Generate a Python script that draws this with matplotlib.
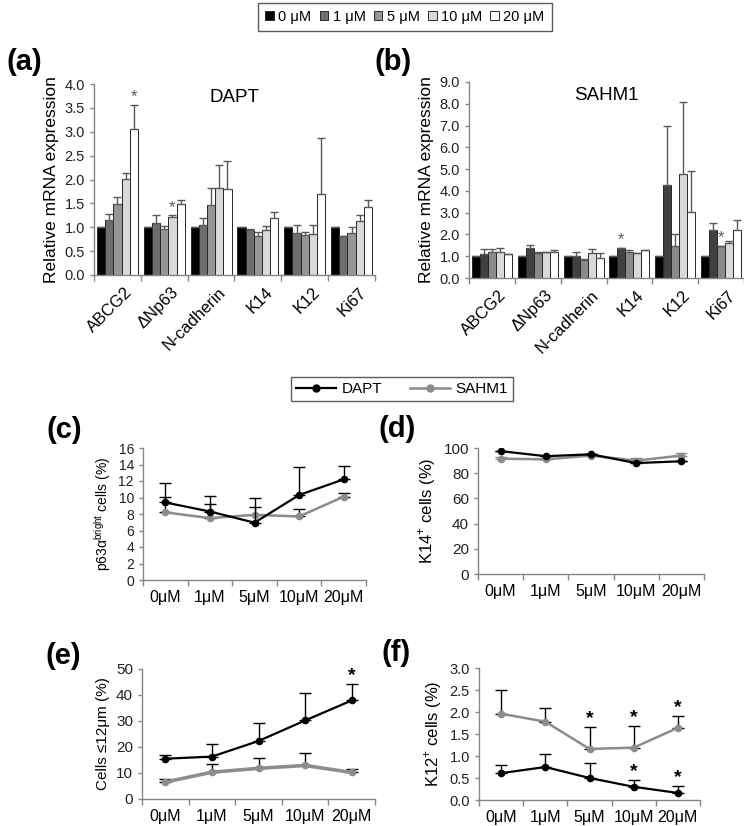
import numpy as np
import matplotlib
matplotlib.use("Agg")
import matplotlib.pyplot as plt
from matplotlib.patches import Patch
from matplotlib.lines import Line2D

plt.rcParams['font.family'] = ['Liberation Sans', 'DejaVu Sans']

W, H = 744, 826

# ---- bar data (a) DAPT, (b) SAHM1 ----
genes = ["ABCG2", "ΔNp63", "N-cadherin", "K14", "K12", "Ki67"]
dose_names = ["0 μM", "1 μM", "5 μM", "10 μM", "20 μM"]

dapt_0 = [1.0, 1.0, 1.0, 1.0, 1.0, 1.0]
dapt_1 = [1.15, 1.09, 1.05, 0.95, 0.87, 0.82]
dapt_5 = [1.49, 0.97, 1.47, 0.81, 0.84, 0.88]
dapt_10 = [2.02, 1.22, 1.82, 0.94, 0.85, 1.13]
dapt_20 = [3.05, 1.49, 1.81, 1.19, 1.70, 1.43]
dapt_err_0 = [0, 0, 0, 0.01, 0, 0]
dapt_err_1 = [0.13, 0.17, 0.14, 0.02, 0.17, 0.0]
dapt_err_5 = [0.14, 0.05, 0.35, 0.09, 0.07, 0.12]
dapt_err_10 = [0.11, 0.03, 0.49, 0.09, 0.20, 0.13]
dapt_err_20 = [0.52, 0.09, 0.58, 0.12, 1.16, 0.15]
dapt_stars = [(0, 4), (1, 3)]

sahm_0 = [1.0, 1.0, 1.0, 1.0, 1.0, 1.0]
sahm_1 = [1.10, 1.36, 1.00, 1.40, 4.25, 2.22]
sahm_5 = [1.18, 1.17, 0.82, 1.20, 1.45, 1.47]
sahm_10 = [1.20, 1.18, 1.13, 1.15, 4.77, 1.60]
sahm_20 = [1.08, 1.20, 0.94, 1.27, 3.03, 2.22]
sahm_err_0 = [0, 0, 0, 0, 0, 0]
sahm_err_1 = [0.22, 0.14, 0.18, 0.0, 2.73, 0.30]
sahm_err_5 = [0.14, 0.01, 0.06, 0.10, 0.57, 0.0]
sahm_err_10 = [0.20, 0.0, 0.18, 0.0, 3.33, 0.10]
sahm_err_20 = [0.02, 0.10, 0.21, 0.0, 1.87, 0.43]
sahm_stars = [(3, 1), (5, 2)]

# ---- line data (c)-(f) ----
conc = ["0μM", "1μM", "5μM", "10μM", "20μM"]

c_dapt = [9.4, 8.3, 6.95, 10.3, 12.2]
c_dapt_err = [2.4, 1.9, 2.95, 3.4, 1.6]
c_sahm = [8.2, 7.5, 7.9, 7.7, 10.1]
c_sahm_err = [1.9, 1.7, 1.0, 0.9, 0.4]

d_dapt = [97.5, 93.5, 95.0, 88.0, 89.5]
d_dapt_err = [0.5, 0.5, 0.5, 0.5, 0.5]
d_sahm = [91.5, 91.0, 94.0, 90.0, 94.0]
d_sahm_err = [1.5, 0.5, 1.5, 2.0, 2.0]

e_dapt = [15.5, 16.3, 22.3, 30.2, 37.9]
e_dapt_err = [1.3, 4.9, 6.8, 10.6, 6.3]
e_sahm = [6.5, 10.3, 11.8, 12.9, 10.2]
e_sahm_err = [1.2, 3.3, 3.8, 4.8, 1.3]
e_dapt_stars = [4]
e_sahm_stars = []

f_dapt = [0.61, 0.75, 0.50, 0.30, 0.16]
f_dapt_err = [0.19, 0.29, 0.34, 0.15, 0.15]
f_sahm = [1.96, 1.78, 1.16, 1.19, 1.64]
f_sahm_err = [0.55, 0.31, 0.49, 0.50, 0.27]
f_dapt_stars = [3, 4]
f_sahm_stars = [2, 3, 4]

AXC = '#868686'


def rect(l, t, r, b):
    return [l / W, 1 - b / H, (r - l) / W, (b - t) / H]


def style_axes(ax):
    for s in ['top', 'right']:
        ax.spines[s].set_visible(False)
    for s in ['left', 'bottom']:
        ax.spines[s].set_color(AXC)
        ax.spines[s].set_linewidth(1.0)
    ax.tick_params(axis='y', colors=AXC, labelcolor='#222222', length=3, width=1)


def bar_panel(ax, series, errs, colors, stars, ymax, ystep, title):
    x = np.arange(len(genes))
    w = 0.175
    for i, (vals, e) in enumerate(zip(series, errs)):
        pos = x + (i - 2) * w
        ax.bar(pos, vals, w, color=colors[i], edgecolor='#262626', linewidth=0.7, zorder=2)
        ax.errorbar(pos, vals, yerr=[np.zeros(len(e)), e], fmt='none',
                    ecolor='#595959', elinewidth=1.0, capsize=3, capthick=1.0, zorder=3)
    for g, d in stars:
        top = series[d][g] + errs[d][g]
        ax.text(x[g] + (d - 2) * w, top + ymax * 0.003, '*', ha='center', va='bottom',
                fontsize=12, color='#595959')
    ax.set_xlim(-0.5, len(genes) - 0.5)
    ax.set_ylim(0, ymax)
    ax.set_yticks(np.arange(0, ymax + 1e-6, ystep))
    ax.set_yticklabels(['%.1f' % v for v in np.arange(0, ymax + 1e-6, ystep)], fontsize=10.5)
    ax.set_xticks(x + 0.15)
    ax.set_xticklabels(genes, rotation=45, ha='right', rotation_mode='anchor', fontsize=12)
    ax.set_xticks(np.arange(-0.5, len(genes)), minor=True)
    ax.tick_params(axis='x', which='major', length=0, pad=7)
    ax.tick_params(axis='x', which='minor', length=4, width=1, color=AXC)
    style_axes(ax)
    ax.set_ylabel('Relative mRNA expression', fontsize=12.5, labelpad=4)
    ax.text(0.5, 0.93, title, transform=ax.transAxes, ha='center', va='center', fontsize=13.5)


def line_panel(ax, dapt, dapt_err, sahm, sahm_err, ymax, ystep, fmt, ylabel, ylfs, ytfs,
               dapt_stars=(), sahm_stars=(), ecol_s='black', lw_s=1.8):
    x = np.arange(len(conc))
    ax.errorbar(x, sahm, yerr=[np.zeros(len(x)), sahm_err], color='#8c8c8c', lw=lw_s,
                marker='o', ms=4.5, ecolor=ecol_s, elinewidth=1.0, capsize=4, capthick=1.0, zorder=2)
    ax.errorbar(x, dapt, yerr=[np.zeros(len(x)), dapt_err], color='black', lw=1.6,
                marker='o', ms=4.5, ecolor='black', elinewidth=1.0, capsize=4, capthick=1.0, zorder=3)
    for i in dapt_stars:
        ax.text(x[i], dapt[i] + dapt_err[i], '*', ha='center', va='bottom', fontsize=14,
                fontweight='bold')
    for i in sahm_stars:
        ax.text(x[i], sahm[i] + sahm_err[i], '*', ha='center', va='bottom', fontsize=14,
                fontweight='bold')
    ax.set_xlim(-0.5, len(conc) - 0.5)
    ax.set_ylim(0, ymax)
    ticks = np.arange(0, ymax + 1e-6, ystep)
    ax.set_yticks(ticks)
    ax.set_yticklabels([fmt % v for v in ticks], fontsize=ytfs)
    ax.set_xticks(x)
    ax.set_xticklabels(conc, fontsize=11.5)
    ax.set_xticks(np.arange(-0.5, len(conc)), minor=True)
    ax.tick_params(axis='x', which='major', length=0, pad=7)
    ax.tick_params(axis='x', which='minor', length=4, width=1, color=AXC)
    style_axes(ax)
    ax.set_ylabel(ylabel, fontsize=ylfs, labelpad=4)


fig = plt.figure(figsize=(W / 100, H / 100), dpi=100)

ax_a = fig.add_axes(rect(94, 84, 375, 275))
bar_panel(ax_a, [dapt_0, dapt_1, dapt_5, dapt_10, dapt_20],
          [dapt_err_0, dapt_err_1, dapt_err_5, dapt_err_10, dapt_err_20],
          ['#000000', '#6e6e6e', '#969696', '#d9d9d9', '#ffffff'],
          dapt_stars, 4.0, 0.5, 'DAPT')

ax_b = fig.add_axes(rect(469, 82, 744, 278))
bar_panel(ax_b, [sahm_0, sahm_1, sahm_5, sahm_10, sahm_20],
          [sahm_err_0, sahm_err_1, sahm_err_5, sahm_err_10, sahm_err_20],
          ['#000000', '#404040', '#8a8a8a', '#d9d9d9', '#ffffff'],
          sahm_stars, 9.0, 1.0, 'SAHM1')

ax_c = fig.add_axes(rect(143, 448, 366, 580))
line_panel(ax_c, c_dapt, c_dapt_err, c_sahm, c_sahm_err, 16, 2, '%d',
           'p63α$^{\\mathregular{bright}}$ cells (%)', 10, 10)

ax_d = fig.add_axes(rect(478, 448, 704, 574))
line_panel(ax_d, d_dapt, d_dapt_err, d_sahm, d_sahm_err, 100, 20, '%d',
           'K14$^{\\mathregular{+}}$ cells (%)', 12, 11, ecol_s='#8c8c8c')

ax_e = fig.add_axes(rect(142, 669, 375, 799))
line_panel(ax_e, e_dapt, e_dapt_err, e_sahm, e_sahm_err, 50, 10, '%d',
           'Cells ≤12μm (%)', 11, 11, dapt_stars=e_dapt_stars, sahm_stars=e_sahm_stars,
           lw_s=2.6)

ax_f = fig.add_axes(rect(479, 668, 700, 800))
line_panel(ax_f, f_dapt, f_dapt_err, f_sahm, f_sahm_err, 3.0, 0.5, '%.1f',
           'K12$^{\\mathregular{+}}$ cells (%)', 12, 10.5,
           dapt_stars=f_dapt_stars, sahm_stars=f_sahm_stars)

# panel labels
for lab, px, py in [('(a)', 24, 62), ('(b)', 393, 62), ('(c)', 64, 430),
                    ('(d)', 397, 429), ('(e)', 63, 656), ('(f)', 396, 653)]:
    fig.text(px / W, 1 - py / H, lab, fontsize=21, fontweight='bold', ha='center', va='center')

# legends
bar_handles = [Patch(facecolor=c, edgecolor='#262626', linewidth=0.7)
               for c in ['#000000', '#6e6e6e', '#969696', '#d9d9d9', '#ffffff']]
leg1 = fig.legend(bar_handles, dose_names, loc='center', bbox_to_anchor=(405 / W, 1 - 17 / H),
                  ncol=5, fontsize=10.5, frameon=True, fancybox=False, handlelength=0.6,
                  handleheight=0.6, handletextpad=0.3, columnspacing=0.55, borderpad=0.5)
leg1.get_frame().set_edgecolor('#333333')
leg1.get_frame().set_linewidth(1.0)

line_handles = [Line2D([], [], color='black', lw=1.6, marker='o', ms=5),
                Line2D([], [], color='#8c8c8c', lw=1.8, marker='o', ms=5)]
leg2 = fig.legend(line_handles, ['DAPT', 'SAHM1'], loc='center',
                  bbox_to_anchor=(402 / W, 1 - 389 / H), ncol=2, fontsize=11, frameon=True,
                  fancybox=False, handlelength=2.6, handletextpad=0.4, columnspacing=1.8,
                  borderpad=0.35)
leg2.get_frame().set_edgecolor('#333333')
leg2.get_frame().set_linewidth(1.0)

fig.savefig('out.png', dpi=100)
